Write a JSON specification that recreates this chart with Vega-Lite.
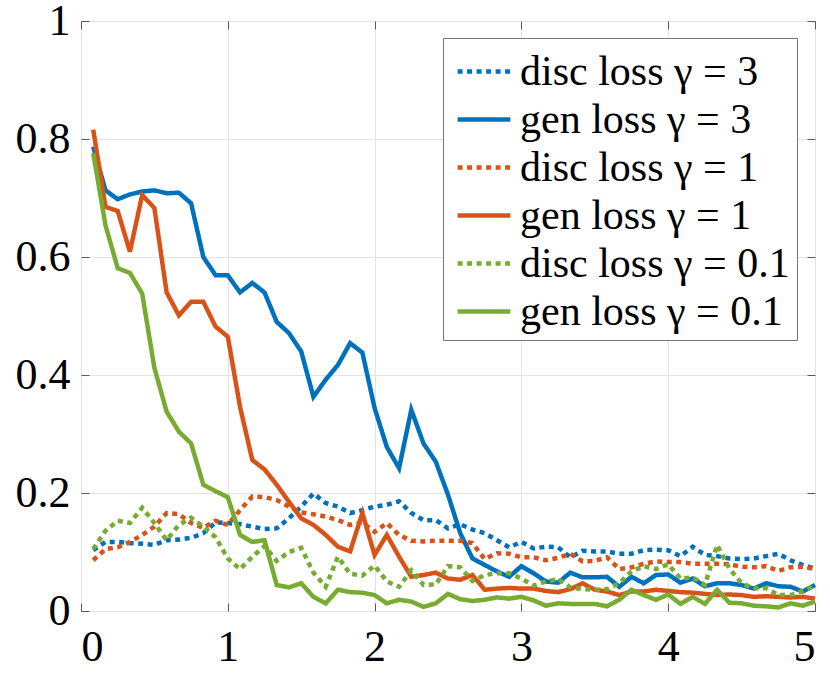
{
  "$schema": "https://vega.github.io/schema/vega-lite/v6.json",
  "description": "Discriminator and generator loss for three gamma values",
  "autosize": "none",
  "width": 734,
  "height": 590,
  "padding": {"left": 81, "top": 21, "right": 15, "bottom": 64},
  "background": "white",
  "data": {
    "values": [
      {"t": 0.0833, "d3": 0.103, "g3": 0.787, "d1": 0.086, "g1": 0.816, "d01": 0.105, "g01": 0.776},
      {"t": 0.1667, "d3": 0.117, "g3": 0.713, "d1": 0.105, "g1": 0.685, "d01": 0.136, "g01": 0.654},
      {"t": 0.25, "d3": 0.117, "g3": 0.698, "d1": 0.108, "g1": 0.678, "d01": 0.153, "g01": 0.581},
      {"t": 0.3333, "d3": 0.115, "g3": 0.706, "d1": 0.117, "g1": 0.609, "d01": 0.149, "g01": 0.573},
      {"t": 0.4167, "d3": 0.114, "g3": 0.711, "d1": 0.129, "g1": 0.705, "d01": 0.175, "g01": 0.538},
      {"t": 0.5, "d3": 0.112, "g3": 0.713, "d1": 0.143, "g1": 0.683, "d01": 0.149, "g01": 0.412},
      {"t": 0.5833, "d3": 0.120, "g3": 0.708, "d1": 0.166, "g1": 0.540, "d01": 0.120, "g01": 0.338},
      {"t": 0.6667, "d3": 0.121, "g3": 0.709, "d1": 0.164, "g1": 0.501, "d01": 0.146, "g01": 0.304},
      {"t": 0.75, "d3": 0.124, "g3": 0.691, "d1": 0.149, "g1": 0.524, "d01": 0.158, "g01": 0.284},
      {"t": 0.8333, "d3": 0.132, "g3": 0.600, "d1": 0.141, "g1": 0.524, "d01": 0.143, "g01": 0.214},
      {"t": 0.9167, "d3": 0.150, "g3": 0.569, "d1": 0.153, "g1": 0.482, "d01": 0.125, "g01": 0.203},
      {"t": 1, "d3": 0.149, "g3": 0.569, "d1": 0.146, "g1": 0.465, "d01": 0.089, "g01": 0.193},
      {"t": 1.0833, "d3": 0.147, "g3": 0.540, "d1": 0.171, "g1": 0.346, "d01": 0.071, "g01": 0.129},
      {"t": 1.1667, "d3": 0.143, "g3": 0.556, "d1": 0.194, "g1": 0.256, "d01": 0.092, "g01": 0.117},
      {"t": 1.25, "d3": 0.139, "g3": 0.540, "d1": 0.193, "g1": 0.240, "d01": 0.110, "g01": 0.120},
      {"t": 1.3333, "d3": 0.140, "g3": 0.490, "d1": 0.188, "g1": 0.214, "d01": 0.085, "g01": 0.044},
      {"t": 1.4167, "d3": 0.157, "g3": 0.471, "d1": 0.177, "g1": 0.185, "d01": 0.100, "g01": 0.040},
      {"t": 1.5, "d3": 0.177, "g3": 0.440, "d1": 0.167, "g1": 0.157, "d01": 0.107, "g01": 0.047},
      {"t": 1.5833, "d3": 0.199, "g3": 0.363, "d1": 0.164, "g1": 0.146, "d01": 0.065, "g01": 0.024},
      {"t": 1.6667, "d3": 0.183, "g3": 0.392, "d1": 0.160, "g1": 0.129, "d01": 0.041, "g01": 0.013},
      {"t": 1.75, "d3": 0.177, "g3": 0.417, "d1": 0.154, "g1": 0.109, "d01": 0.092, "g01": 0.036},
      {"t": 1.8333, "d3": 0.166, "g3": 0.454, "d1": 0.146, "g1": 0.101, "d01": 0.063, "g01": 0.032},
      {"t": 1.9167, "d3": 0.171, "g3": 0.438, "d1": 0.150, "g1": 0.166, "d01": 0.060, "g01": 0.031},
      {"t": 2, "d3": 0.177, "g3": 0.344, "d1": 0.134, "g1": 0.095, "d01": 0.077, "g01": 0.027},
      {"t": 2.0833, "d3": 0.180, "g3": 0.278, "d1": 0.149, "g1": 0.129, "d01": 0.050, "g01": 0.013},
      {"t": 2.1667, "d3": 0.186, "g3": 0.242, "d1": 0.129, "g1": 0.092, "d01": 0.041, "g01": 0.019},
      {"t": 2.25, "d3": 0.166, "g3": 0.341, "d1": 0.119, "g1": 0.058, "d01": 0.069, "g01": 0.016},
      {"t": 2.3333, "d3": 0.154, "g3": 0.284, "d1": 0.118, "g1": 0.061, "d01": 0.044, "g01": 0.007},
      {"t": 2.4167, "d3": 0.154, "g3": 0.253, "d1": 0.119, "g1": 0.065, "d01": 0.045, "g01": 0.013},
      {"t": 2.5, "d3": 0.140, "g3": 0.197, "d1": 0.119, "g1": 0.055, "d01": 0.076, "g01": 0.029},
      {"t": 2.5833, "d3": 0.147, "g3": 0.132, "d1": 0.119, "g1": 0.053, "d01": 0.074, "g01": 0.020},
      {"t": 2.6667, "d3": 0.138, "g3": 0.089, "d1": 0.115, "g1": 0.061, "d01": 0.051, "g01": 0.017},
      {"t": 2.75, "d3": 0.132, "g3": 0.078, "d1": 0.088, "g1": 0.036, "d01": 0.061, "g01": 0.019},
      {"t": 2.8333, "d3": 0.120, "g3": 0.067, "d1": 0.098, "g1": 0.038, "d01": 0.064, "g01": 0.023},
      {"t": 2.9167, "d3": 0.108, "g3": 0.058, "d1": 0.097, "g1": 0.039, "d01": 0.064, "g01": 0.021},
      {"t": 3, "d3": 0.117, "g3": 0.076, "d1": 0.091, "g1": 0.038, "d01": 0.055, "g01": 0.024},
      {"t": 3.0833, "d3": 0.106, "g3": 0.064, "d1": 0.091, "g1": 0.038, "d01": 0.043, "g01": 0.018},
      {"t": 3.1667, "d3": 0.109, "g3": 0.050, "d1": 0.086, "g1": 0.034, "d01": 0.050, "g01": 0.009},
      {"t": 3.25, "d3": 0.108, "g3": 0.048, "d1": 0.090, "g1": 0.032, "d01": 0.054, "g01": 0.013},
      {"t": 3.3333, "d3": 0.091, "g3": 0.065, "d1": 0.097, "g1": 0.037, "d01": 0.040, "g01": 0.012},
      {"t": 3.4167, "d3": 0.102, "g3": 0.057, "d1": 0.084, "g1": 0.047, "d01": 0.037, "g01": 0.012},
      {"t": 3.5, "d3": 0.101, "g3": 0.057, "d1": 0.085, "g1": 0.036, "d01": 0.036, "g01": 0.012},
      {"t": 3.5833, "d3": 0.101, "g3": 0.058, "d1": 0.091, "g1": 0.033, "d01": 0.037, "g01": 0.008},
      {"t": 3.6667, "d3": 0.097, "g3": 0.041, "d1": 0.071, "g1": 0.027, "d01": 0.047, "g01": 0.019},
      {"t": 3.75, "d3": 0.097, "g3": 0.058, "d1": 0.074, "g1": 0.033, "d01": 0.067, "g01": 0.036},
      {"t": 3.8333, "d3": 0.103, "g3": 0.047, "d1": 0.080, "g1": 0.033, "d01": 0.076, "g01": 0.027},
      {"t": 3.9167, "d3": 0.104, "g3": 0.061, "d1": 0.084, "g1": 0.036, "d01": 0.071, "g01": 0.019},
      {"t": 4, "d3": 0.103, "g3": 0.062, "d1": 0.083, "g1": 0.034, "d01": 0.079, "g01": 0.028},
      {"t": 4.0833, "d3": 0.093, "g3": 0.048, "d1": 0.083, "g1": 0.032, "d01": 0.055, "g01": 0.012},
      {"t": 4.1667, "d3": 0.109, "g3": 0.055, "d1": 0.080, "g1": 0.031, "d01": 0.057, "g01": 0.024},
      {"t": 4.25, "d3": 0.095, "g3": 0.042, "d1": 0.080, "g1": 0.029, "d01": 0.044, "g01": 0.012},
      {"t": 4.3333, "d3": 0.093, "g3": 0.047, "d1": 0.080, "g1": 0.027, "d01": 0.112, "g01": 0.036},
      {"t": 4.4167, "d3": 0.089, "g3": 0.047, "d1": 0.079, "g1": 0.028, "d01": 0.072, "g01": 0.014},
      {"t": 4.5, "d3": 0.088, "g3": 0.044, "d1": 0.075, "g1": 0.027, "d01": 0.047, "g01": 0.013},
      {"t": 4.5833, "d3": 0.089, "g3": 0.038, "d1": 0.074, "g1": 0.024, "d01": 0.038, "g01": 0.009},
      {"t": 4.6667, "d3": 0.093, "g3": 0.047, "d1": 0.076, "g1": 0.025, "d01": 0.039, "g01": 0.008},
      {"t": 4.75, "d3": 0.097, "g3": 0.042, "d1": 0.068, "g1": 0.024, "d01": 0.027, "g01": 0.006},
      {"t": 4.8333, "d3": 0.086, "g3": 0.041, "d1": 0.074, "g1": 0.023, "d01": 0.027, "g01": 0.013},
      {"t": 4.9167, "d3": 0.078, "g3": 0.033, "d1": 0.075, "g1": 0.024, "d01": 0.034, "g01": 0.009},
      {"t": 5, "d3": 0.072, "g3": 0.044, "d1": 0.071, "g1": 0.021, "d01": 0.044, "g01": 0.016}
    ]
  },
  "transform": [
    {"fold": ["d3", "g3", "d1", "g1", "d01", "g01"], "as": ["series", "loss"]}
  ],
  "layer": [
    {
      "mark": {"type": "line", "strokeWidth": 4.5, "strokeCap": "butt", "strokeJoin": "miter"},
      "encoding": {
        "x": {
          "field": "t",
          "type": "quantitative",
          "scale": {"domain": [0, 5], "nice": false},
          "axis": {"values": [0, 1, 2, 3, 4, 5], "labelPadding": 22, "labelFont": "serif"}
        },
        "y": {
          "field": "loss",
          "type": "quantitative",
          "scale": {"domain": [0, 1], "nice": false, "zero": false},
          "axis": {"values": [0, 0.2, 0.4, 0.6, 0.8, 1], "format": "~g", "labelPadding": 19, "labelFont": "serif"}
        },
        "color": {
          "field": "series",
          "type": "nominal",
          "title": null,
          "scale": {
            "domain": ["d3", "g3", "d1", "g1", "d01", "g01"],
            "range": ["#0072BD", "#0072BD", "#D95319", "#D95319", "#77AC30", "#77AC30"]
          },
          "legend": {
            "labelFont": "serif",
            "labelExpr": "datum.label == 'd3' ? 'disc loss γ = 3' : datum.label == 'g3' ? 'gen loss γ = 3' : datum.label == 'd1' ? 'disc loss γ = 1' : datum.label == 'g1' ? 'gen loss γ = 1' : datum.label == 'd01' ? 'disc loss γ = 0.1' : 'gen loss γ = 0.1'"
          }
        },
        "strokeDash": {
          "field": "series",
          "type": "nominal",
          "title": null,
          "scale": {
            "domain": ["d3", "g3", "d1", "g1", "d01", "g01"],
            "range": [[5, 4.5], [1, 0], [5, 4.5], [1, 0], [5, 4.5], [1, 0]]
          },
          "legend": {
            "labelFont": "serif",
            "labelExpr": "datum.label == 'd3' ? 'disc loss γ = 3' : datum.label == 'g3' ? 'gen loss γ = 3' : datum.label == 'd1' ? 'disc loss γ = 1' : datum.label == 'g1' ? 'gen loss γ = 1' : datum.label == 'd01' ? 'disc loss γ = 0.1' : 'gen loss γ = 0.1'"
          }
        }
      }
    },
    {
      "mark": {"type": "point", "opacity": 0},
      "encoding": {
        "x": {
          "field": "t",
          "type": "quantitative",
          "axis": {"orient": "top", "values": [0, 1, 2, 3, 4, 5], "labels": false, "grid": false}
        },
        "y": {
          "field": "loss",
          "type": "quantitative",
          "axis": {"orient": "right", "values": [0, 0.2, 0.4, 0.6, 0.8, 1], "labels": false, "grid": false}
        }
      }
    }
  ],
  "resolve": {"axis": {"x": "independent", "y": "independent"}},
  "config": {
    "font": "serif",
    "view": {"stroke": "#5a5a5a", "strokeWidth": 1},
    "axis": {
      "title": null,
      "domain": false,
      "labelFontSize": 44,
      "labelColor": "#000000",
      "grid": true,
      "gridColor": "#e3e3e3",
      "gridWidth": 1,
      "tickColor": "#5a5a5a",
      "tickSize": -8,
      "tickWidth": 1
    },
    "legend": {
      "orient": "none",
      "legendX": 362,
      "legendY": 17,
      "labelFontSize": 42,
      "labelColor": "#000000",
      "labelLimit": 500,
      "labelOffset": 9.5,
      "symbolType": "M-1.1,0H1.1",
      "symbolSize": 2304,
      "symbolStrokeWidth": 4.5,
      "symbolOffset": 7.5,
      "padding": 7,
      "rowPadding": 0,
      "strokeColor": "#777777",
      "fillColor": "#ffffff"
    }
  }
}
